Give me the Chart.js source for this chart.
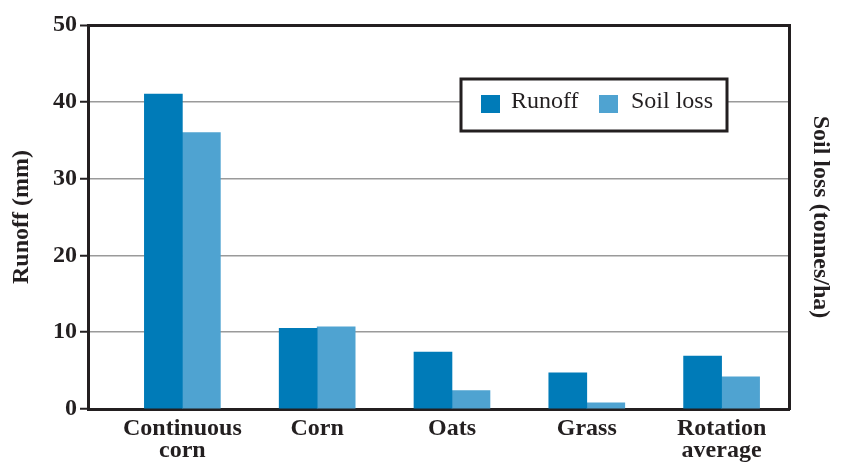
<!DOCTYPE html>
<html>
<head>
<meta charset="utf-8">
<script src="https://cdn.jsdelivr.net/npm/chart.js@4/dist/chart.umd.min.js"></script>
<style>
  html, body { margin: 0; padding: 0; background: #ffffff; }
  #wrap { width: 841px; height: 462px; }
</style>
</head>
<body>
<div id="wrap"><canvas id="runoffChart" width="841" height="462"></canvas></div>
<script>
var categories = [[`Continuous`, `corn`], `Corn`, `Oats`, `Grass`, [`Rotation`, `average`]]
var runoffValues = [41.0, 10.5, 7.4, 4.7, 6.9]
var soilLossValues = [36.0, 10.7, 2.4, 0.8, 4.2]
var yTicks = [0, 10, 20, 30, 40, 50]

var runoffColor = `#007bb8`
var soilColor = `#4fa3d1`
var ink = `#231f20`
var serif = `"Liberation Serif", "Times New Roman", serif`

function toPoints(values){
    var points = []
    for(var pos = 0; pos < values.length; pos++){
        points.push({x: pos, y: values[pos]})
    }
    return points
}

//legend box drawn over the grid like the printed figure
var boxLegend = {
    id: `boxLegend`,
    afterDatasetsDraw(chart){
        var ctx = chart.ctx
        var sets = chart.data.datasets
        ctx.save()
        ctx.fillStyle = `#ffffff`
        ctx.fillRect(461, 79, 266, 52)
        ctx.strokeStyle = ink
        ctx.lineWidth = 3
        ctx.strokeRect(461, 79, 266, 52)
        ctx.font = `24px ${serif}`
        ctx.textBaseline = `middle`
        ctx.fillStyle = sets[0].backgroundColor
        ctx.fillRect(481, 95, 19, 18)
        ctx.fillStyle = ink
        ctx.fillText(sets[0].label, 511, 102)
        ctx.fillStyle = sets[1].backgroundColor
        ctx.fillRect(599, 95, 19, 18)
        ctx.fillStyle = ink
        ctx.fillText(sets[1].label, 631, 102)
        ctx.restore()
    }
}

new Chart(document.getElementById(`runoffChart`), {
    type: 'bar',
    data: {
        datasets: [{
            label: 'Runoff',
            data: toPoints(runoffValues),
            backgroundColor: runoffColor,
            borderWidth: 0,
            barThickness: 38
        }, {
            label: 'Soil loss',
            data: toPoints(soilLossValues),
            backgroundColor: soilColor,
            borderWidth: 0,
            barThickness: 38
        }]
    },
    options: {
        responsive: false,
        animation: false,
        layout: {
            padding: {top: 25, left: 0, right: 0, bottom: 0}
        },
        plugins: {
            legend: {display: false},
            tooltip: {enabled: false}
        },
        scales: {
            x: {
                type: 'linear',
                min: -0.7,
                max: 4.5,
                offset: false,
                afterFit: (scale) => { scale.height = 53 },
                grid: {display: false, offset: false, drawTicks: false},
                border: {display: true, color: ink, width: 3},
                ticks: {
                    stepSize: 1,
                    includeBounds: false,
                    autoSkip: false,
                    maxRotation: 0,
                    padding: 9,
                    color: ink,
                    font: {family: serif, size: 24, weight: 'bold', lineHeight: 0.92},
                    callback: (value) => Number.isInteger(value) ? categories[value] : ``
                }
            },
            y: {
                position: 'left',
                min: 0,
                max: 50,
                afterFit: (scale) => { scale.width = 88 },
                afterBuildTicks: (scale) => { scale.ticks = yTicks.map((v) => ({value: v})) },
                grid: {
                    color: (c) => c.tick && c.tick.value === 50 ? ink : `#9a9a9a`,
                    lineWidth: (c) => c.tick && c.tick.value === 50 ? 3 : 1.5,
                    tickColor: ink,
                    tickWidth: 2,
                    tickLength: 8
                },
                border: {display: true, color: ink, width: 3},
                ticks: {
                    padding: 3,
                    color: ink,
                    font: {family: serif, size: 24, weight: 'bold'}
                },
                title: {
                    display: true,
                    text: 'Runoff (mm)',
                    color: ink,
                    padding: {top: 9, bottom: 0},
                    font: {family: serif, size: 24, weight: 'bold', lineHeight: 1.1}
                }
            },
            y2: {
                position: 'right',
                min: 0,
                max: 50,
                afterFit: (scale) => { scale.width = 52 },
                grid: {display: false},
                border: {display: true, color: ink, width: 3},
                ticks: {display: false},
                title: {
                    display: true,
                    text: 'Soil loss (tonnes/ha)',
                    color: ink,
                    padding: {top: 8, bottom: 0},
                    font: {family: serif, size: 24, weight: 'bold', lineHeight: 1.1}
                }
            }
        }
    },
    plugins: [boxLegend]
})
</script>
</body>
</html>
